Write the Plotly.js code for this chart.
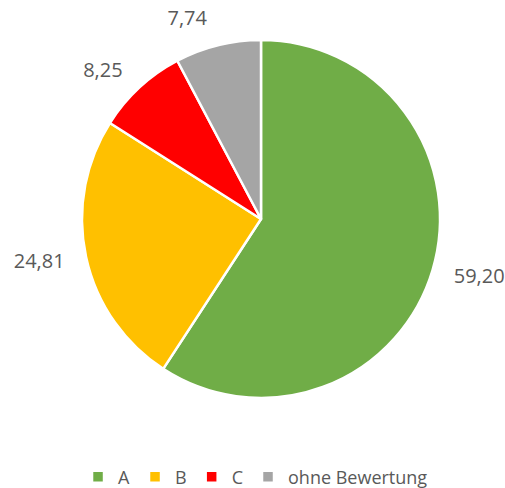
<!DOCTYPE html>
<html>
<head>
<meta charset="utf-8">
<script src="https://cdn.plot.ly/plotly-3.0.1.min.js"></script>
<style>html,body{margin:0;padding:0;background:#fff;}#chart{width:505px;height:488px;}</style>
</head>
<body>
<div id="chart"></div>
<script>
const categories = ["A", "B", "C", "ohne Bewertung"];
const values = [59.20, 24.81, 8.25, 7.74];
const colors = ["#70AD47", "#FFC000", "#FF0000", "#A5A5A5"];

const W = 505, H = 488;
const cx = 261, cy = 219, R = 179, RL = 194;

const pieTrace = {
  type: "pie",
  labels: categories,
  values: values,
  sort: false,
  direction: "clockwise",
  rotation: 0,
  marker: {colors: colors, line: {color: "#FFFFFF", width: 2.5}},
  textinfo: "none",
  hoverinfo: "label+value",
  domain: {x: [(cx - R) / W, (cx + R) / W], y: [1 - (cy + R) / H, 1 - (cy - R) / H]},
  automargin: false
};

const labelTrace = {
  type: "pie",
  labels: categories,
  values: values,
  sort: false,
  direction: "clockwise",
  rotation: 0,
  showlegend: false,
  marker: {colors: ["rgba(0,0,0,0)", "rgba(0,0,0,0)", "rgba(0,0,0,0)", "rgba(0,0,0,0)"], line: {width: 0}},
  texttemplate: "%{value:.2f}",
  textposition: "outside",
  textfont: {family: "Open Sans, sans-serif", size: 20, color: "#595959"},
  hoverinfo: "skip",
  domain: {x: [(cx - RL) / W, (cx + RL) / W], y: [1 - (cy + RL) / H, 1 - (cy - RL) / H]},
  automargin: false
};

const layout = {
  width: W,
  height: H,
  margin: {l: 0, r: 0, t: 0, b: 0, autoexpand: false},
  paper_bgcolor: "#FFFFFF",
  separators: ", ",
  showlegend: true,
  legend: {
    orientation: "h",
    x: 0.506, xanchor: "center",
    y: 0.0225, yanchor: "middle",
    font: {family: "Open Sans, sans-serif", size: 18, color: "#595959"},
    itemwidth: 30,
    traceorder: "normal"
  }
};

Plotly.newPlot("chart", [pieTrace, labelTrace], layout, {displayModeBar: false, staticPlot: true});
</script>
</body>
</html>
